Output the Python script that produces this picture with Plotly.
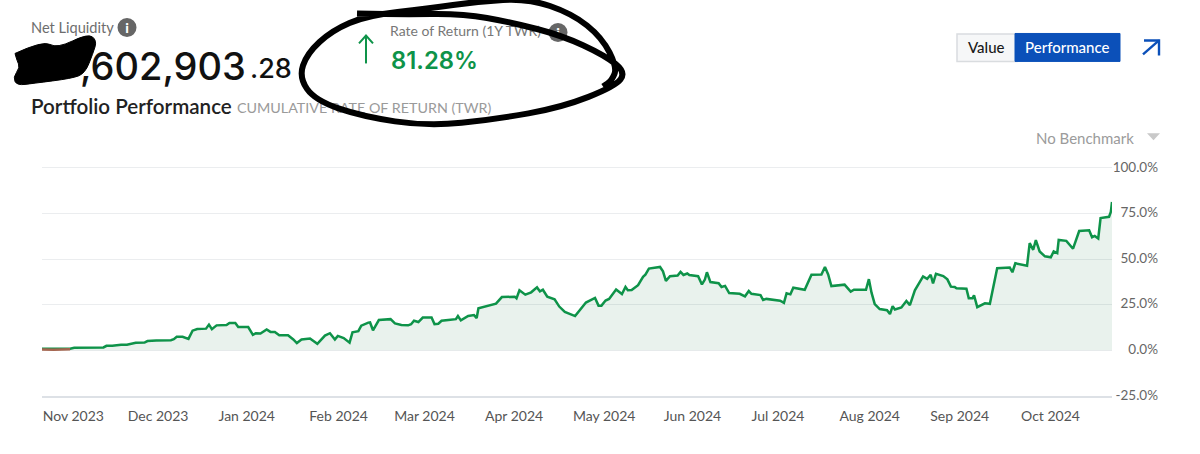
import datetime as dt
import plotly.graph_objects as go

# values
start_date = dt.datetime(2023, 11, 1)
day_offsets = [0, 9.6, 11, 21, 22, 24, 27, 29, 32, 35, 36, 38.6, 39, 44, 45, 46, 48, 50, 51.4, 53, 56, 57, 58, 59.6,
               63, 64, 66, 67, 70.4, 72, 73, 74.6, 76.7, 78, 79.5, 81, 84, 85.8, 87, 88.6, 91.5, 94, 96.6, 98.3,
               100, 101, 103, 105, 106, 108, 109, 111.4, 112, 113, 115, 119, 120.5, 122.7, 125, 126, 127, 128.5,
               130, 133, 134, 135.3, 136.4, 138.7, 140.4, 141.3, 142, 143, 145.5, 147.5, 148.4, 149, 155, 157,
               161.4, 162, 163, 165, 167, 169, 170, 171, 172.5, 175, 176.6, 178.5, 182, 183.6, 185.7, 188.8, 190,
               191, 192.4, 193.6, 196, 198, 199.2, 200, 201.3, 203.5, 205.2, 206, 207.2, 211, 212, 213, 214.4,
               217, 218, 219, 220.3, 221, 224, 225.3, 226.3, 227, 228.2, 231, 232, 233.2, 234.6, 238.2, 240,
               241.3, 242.2, 245.3, 246.2, 247.3, 252, 253.3, 254.2, 255.5, 256.5, 260.4, 262.7, 266.1, 267.3,
               268.4, 269.5, 274, 276.1, 277.2, 281.3, 282.3, 283.2, 284.3, 286, 288.5, 289.5, 290.4, 291.2,
               293.4, 295.1, 296.3, 298, 300.8, 302.2, 303.4, 304.2, 305.2, 307.7, 309.1, 310.3, 311.6, 312.2,
               315.6, 316.4, 317.7, 318.2, 319.3, 321.9, 323.6, 326.1, 330.4, 331.3, 332.3, 336.3, 337.2, 338.4,
               339.3, 340.6, 342.4, 344.4, 345.4, 346.6, 347.1, 349.7, 352, 354.1, 357.5, 358.5, 359.4, 360.6,
               361.4, 364.3, 364.9, 365.3]
twr_values = [0.9, 0.9, 1.4, 1.6, 2.5, 2.5, 3.1, 3.1, 4.2, 4.3, 5.1, 5.1, 5.4, 5.6, 6.1, 7.4, 7.4, 6.3, 10.8, 11.7,
              11.9, 14.1, 11.6, 13.7, 13.9, 15, 15, 12.8, 12.8, 8.5, 9.4, 9.2, 11.4, 10.1, 10.1, 8.3, 8.3, 6, 4, 6,
              6.5, 3.6, 8.1, 9.4, 6, 7.9, 6.7, 4.2, 9.9, 10.5, 13.5, 15.2, 15.3, 11, 16.6, 17.1, 14.8, 13.9, 13.7,
              14.3, 16.2, 15.5, 18, 18, 14.4, 14.6, 16.2, 16.6, 17.1, 17.1, 18.8, 16.4, 18.8, 19.3, 17.7, 23.1, 25.6,
              29.2, 29.4, 28.5, 32.9, 30.5, 31.8, 34.5, 32.3, 33.2, 29.4, 28, 24, 21.1, 18.8, 22.2, 26.2, 28.7, 24.5,
              24.5, 27.3, 28.2, 33.4, 30.9, 34.7, 32.9, 33.1, 35.7, 40.3, 41.5, 44.8, 45.7, 43.3, 38.1, 40.6, 41, 43,
              41.3, 42.1, 41.3, 40.6, 36.1, 38.8, 42.8, 37.4, 36.8, 34.7, 35.3, 31.4, 31, 29.6, 32.5, 31, 30.3, 27.6,
              28.2, 27.2, 26, 31.3, 30.7, 34.3, 33.2, 41.4, 41.6, 45.7, 41.6, 35.2, 36, 32.2, 33.2, 33.2, 39, 31.6,
              25.3, 22.6, 22, 19.9, 24.2, 22.4, 23.5, 27.1, 24.8, 32.9, 40.5, 39.2, 41.4, 36.7, 41.9, 40.7, 38.9,
              34.9, 34.7, 34, 33.8, 28.6, 28.6, 30.2, 23.7, 25.8, 25.5, 45, 45.4, 42.8, 47.7, 46.4, 58.7, 55.1, 60.4,
              54.2, 51.5, 51, 54.2, 53.3, 60.5, 60, 55.7, 65.4, 65.8, 62, 62.7, 61.3, 72.5, 73.2, 75.9, 81.3]
low_days = [0, 4, 9.6]
low_values = [0.5, 0.3, 0.6]
y_ticks = [-25, 0, 25, 50, 75, 100]
y_labels = ["-25.0%", "0.0%", "25.0%", "50.0%", "75.0%", "100.0%"]
# month labels sit slightly ahead of the month start in the original
x_tick_dates = ["2023-11-01", "2023-11-30", "2023-12-31", "2024-01-31", "2024-02-29", "2024-03-31",
                "2024-04-30", "2024-05-31", "2024-06-30", "2024-07-30", "2024-08-30", "2024-09-30"]
x_tick_labels = ["Nov 2023", "Dec 2023", "Jan 2024", "Feb 2024", "Mar 2024", "Apr 2024",
                 "May 2024", "Jun 2024", "Jul 2024", "Aug 2024", "Sep 2024", "Oct 2024"]

GREEN = "#0e9349"
BLUE = "#0b50b9"

L, R, T, B = 42, 42, 165.7, 58
W, H = 1200, 454


def xp(x):
    return (x - L) / (W - L - R)


def yp(y):
    return 1 - (y - T) / (H - T - B)


def dates(days):
    return [start_date + dt.timedelta(days=d) for d in days]


def smooth(points, close=False):
    # quadratic curve through the midpoints, so the pen strokes look hand drawn
    p = [(xp(x), yp(y)) for x, y in points]
    path = f"M {p[0][0]:.5f} {p[0][1]:.5f}"
    for a, b in zip(p[1:-1], p[2:]):
        path += f" Q {a[0]:.5f} {a[1]:.5f} {(a[0] + b[0]) / 2:.5f} {(a[1] + b[1]) / 2:.5f}"
    path += f" L {p[-1][0]:.5f} {p[-1][1]:.5f}"
    return path + (" Z" if close else "")


def txt(x, y, text, size, color, anchor="left", family="Lato", weight=None):
    fig.add_annotation(x=xp(x), y=yp(y), xref="paper", yref="paper", text=text, showarrow=False,
                       xanchor=anchor, yanchor="middle", borderpad=0,
                       font=dict(size=size, color=color, family=family, weight=weight))


def under_ink(x, y, text, size, color, weight=None, family="Lato"):
    # text as a shape label so the pen marks are painted over it
    fig.add_shape(type="rect", xref="paper", yref="paper", x0=xp(x - 6), x1=xp(x + 300), y0=yp(y - 14), y1=yp(y + 14),
                  line=dict(width=0), fillcolor="rgba(0,0,0,0)",
                  label=dict(text=text, textposition="middle left",
                             font=dict(size=size, color=color, family=family, weight=weight)))


def circle(cx, cy, r, color):
    fig.add_shape(type="circle", xref="paper", yref="paper", x0=xp(cx - r), x1=xp(cx + r), y0=yp(cy - r), y1=yp(cy + r),
                  line=dict(width=0), fillcolor=color,
                  label=dict(text="i", font=dict(size=14, color="white", family="Lato", weight=900)))


def line(points, color, width):
    fig.add_shape(type="path", xref="paper", yref="paper", line=dict(color=color, width=width),
                  path="M " + " L ".join(f"{xp(x):.5f} {yp(y):.5f}" for x, y in points))


fig = go.Figure()
fig.add_trace(go.Scatter(x=dates(day_offsets), y=twr_values, mode="lines", fill="tozeroy",
                         fillcolor="rgba(10,110,60,0.09)", line=dict(color=GREEN, width=2.5)))
fig.add_trace(go.Scatter(x=dates(low_days), y=low_values, mode="lines", line=dict(color="#a5654f", width=2.5)))

# header text and controls
under_ink(31, 26, "Net Liquidity", 14.6, "#6d6d6d")
circle(127, 27, 9.5, "#666666")
under_ink(80, 65, ",602,903", 38, "#111111", 500, "Inter")
under_ink(250, 67, ".28", 27, "#111111", 500, "Inter")
under_ink(31, 105, "Portfolio Performance", 20.6, "#222222", 600)
under_ink(237, 107, "CUMULATIVE RATE OF RETURN (TWR)", 14.3, "#9a9a9a")
under_ink(390, 30, "Rate of Return (1Y TWR)", 14, "#777777")
circle(558, 32, 9.5, "#666666")
under_ink(391, 59, "81.28%", 23.8, GREEN, 600, "Inter")
line([(366, 63), (366, 35)], GREEN, 2)
line([(359, 43), (366, 35), (373, 43)], GREEN, 2)

# pen marks over the header
fig.add_shape(type="path", xref="paper", yref="paper", line=dict(color="black", width=6), path=smooth(
    [(357, 13), (400, 14), (462, 13), (512, 22), (562, 35), (605, 55), (626, 72), (615, 86), (562, 107), (495, 119),
     (428, 126), (362, 116), (315, 100), (299, 77), (307, 53), (332, 30), (367, 15), (428, 8), (478, 1), (528, -2),
     (572, 13), (602, 37), (617, 67), (612, 80), (603, 86)]))
fig.add_shape(type="path", xref="paper", yref="paper", line=dict(color="black", width=1), fillcolor="black",
              path=smooth([(15, 53), (43, 40), (57, 48), (88, 33), (97, 40), (93, 53), (85, 73), (72, 78), (33, 83),
                           (17, 85), (13, 77), (20, 67), (17, 60), (15, 53)], close=True))

fig.add_shape(type="rect", xref="paper", yref="paper", x0=xp(957), x1=xp(1017), y0=yp(33.5), y1=yp(61),
              line=dict(color="#d9dcdf", width=1.5), fillcolor="#f6f7f8")
fig.add_shape(type="rect", xref="paper", yref="paper", x0=xp(1015), x1=xp(1120), y0=yp(33), y1=yp(61),
              line=dict(color=BLUE, width=1), fillcolor=BLUE)
txt(986, 47, "Value", 15, "#1a1a1a", "center", weight=500)
txt(1067, 47, "Performance", 15, "white", "center", weight=500)
line([(1143, 54), (1159, 40)], BLUE, 2.4)
line([(1144, 40), (1159, 40), (1159, 55)], BLUE, 2.4)
txt(1085, 138, "No Benchmark", 15, "#9b9b9b", "center")
fig.add_shape(type="path", xref="paper", yref="paper", line=dict(width=0), fillcolor="#c9c9c9",
              path=f"M {xp(1147)} {yp(133)} L {xp(1160)} {yp(133)} L {xp(1153.5)} {yp(140)} Z")

fig.update_layout(
    width=W,
    height=H,
    margin=dict(l=L, r=R, t=T, b=B),
    paper_bgcolor="white",
    plot_bgcolor="white",
    showlegend=False,
    font=dict(family="Lato", color="#555555"),
    xaxis=dict(
        domain=[0, (1112 - L) / (W - L - R)],
        type="date",
        range=[start_date, start_date + dt.timedelta(days=365.3)],
        tickvals=x_tick_dates,
        ticktext=x_tick_labels,
        ticklabelposition="outside right",
        ticklabelstandoff=6,
        ticks="",
        showgrid=False,
        showline=True,
        linecolor="#dde1e6",
        linewidth=1.5,
        tickfont=dict(size=14, color="#555555"),
    ),
    # left side axis pushed to the far edge so the labels stay right aligned
    yaxis=dict(
        range=[-25, 101],
        anchor="free",
        position=1,
        side="left",
        tickvals=y_ticks,
        ticktext=y_labels,
        ticks="",
        gridcolor="#ebedef",
        gridwidth=1,
        zeroline=False,
        showline=False,
        ticklabelshift=-1,
        tickfont=dict(size=13.5, color="#666666"),
    ),
)

fig.write_html("out.html", post_script="document.body.style.margin='0';", config=dict(displayModeBar=False))
